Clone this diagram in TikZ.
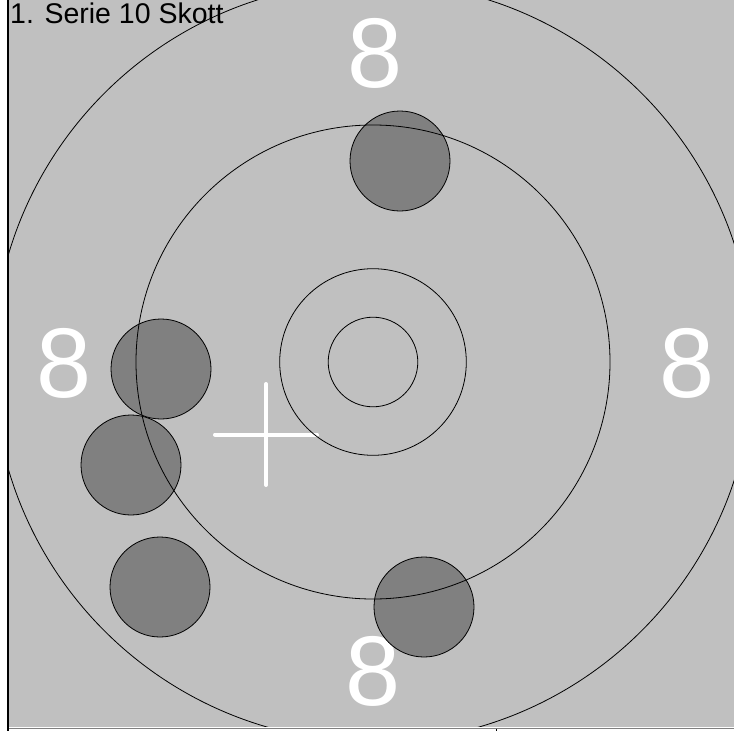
\documentclass[tikz,border=0pt]{standalone}
\usepackage{fontspec}
\setmainfont{Liberation Sans}
\usetikzlibrary{positioning}
\definecolor{sfondo}{RGB}{192,192,192}
\definecolor{foro}{RGB}{128,128,128}

\begin{document}
\begin{tikzpicture}[x=1pt,y=-1pt,
  colpo/.style={circle,draw=black,fill=foro,line width=0.8pt,minimum size=100pt,inner sep=0pt},
  otto/.style={text=white,font=\fontsize{99}{99}\selectfont,inner sep=0pt},
  anello/.style={draw=black,line width=0.8pt},
  croce/.style={draw=white,line width=4pt,line cap=round}]

\useasboundingbox (0,0) rectangle (734,731);

% ---- parametri del bersaglio ----
\def\cx{373}
\def\cy{362}

% ---- sfondo e bordi ----
\fill[white] (0,0) rectangle (734,731);
\fill[sfondo] (9,0) rectangle (734,726.5);
\draw[line width=2pt] (7.7,0) -- (7.7,731);
\draw[foro,line width=1.4pt] (9,728.7) -- (734,728.7);
\draw[line width=1pt] (496,728.5) -- (496,731);

% ---- titolo ----
\node[anchor=base west,inner sep=0pt,font=\fontsize{28.5}{28.5}\selectfont] (titolo) at (10,23.5) {1. Serie 10 Skott};

% ---- numeri 8 ----
\node[otto] (ottoN) at (375,53) {8};
\node[otto] (ottoE) at (687,363) {8};
\node[otto] (ottoO) at (64.5,363) {8};
\node[otto] (ottoS) at (373,671) {8};

% ---- colpi ----
\node[colpo] (colpo1) at (400,161) {};
\node[colpo] (colpo2) at (161,369) {};
\node[colpo] (colpo3) at (131,465) {};
\node[colpo] (colpo4) at (160,587) {};
\node[colpo] (colpo5) at (424,607) {};

% ---- mira ----
\coordinate (mira) at (266,434.5);
\draw[croce] ([xshift=-51pt]mira) -- ([xshift=51pt]mira);
\draw[croce] ([yshift=50.5pt]mira) -- ([yshift=-50.5pt]mira);

% ---- anelli ----
\begin{scope}
  \clip (9,0) rectangle (734,726.5);
  \foreach \r in {44.8,93.3,237,380}
    \draw[anello] (\cx,\cy) circle[radius=\r pt];
\end{scope}

\end{tikzpicture}
\end{document}
